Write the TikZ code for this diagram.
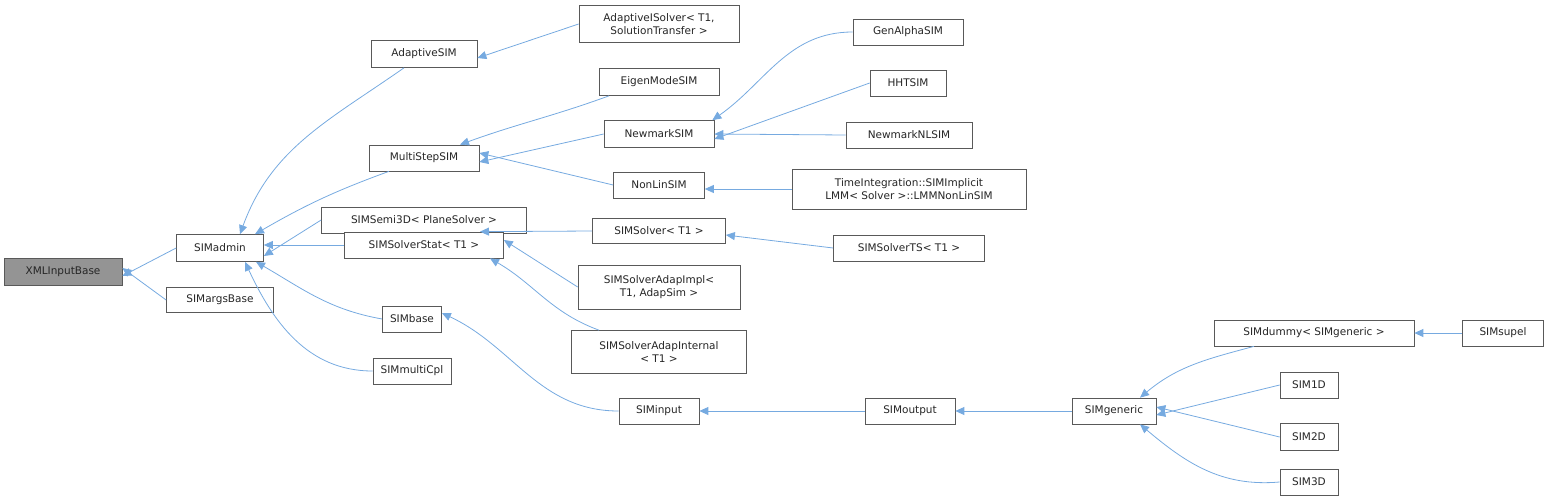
\documentclass[tikz,border=0pt]{standalone}
\usepackage{fontspec}
\setmainfont{DejaVu Sans}
\usetikzlibrary{arrows.meta,calc}
\begin{document}
\begin{tikzpicture}[x=1pt,y=-1pt,
  box/.style={draw=black!65,line width=0.7pt,fill=white,inner sep=0pt,align=center,
    font=\fontsize{10.5}{12.5}\selectfont,text=black!85},
  inh/.style={draw=cyan!60!blue!55,line width=0.8pt,-{Triangle[length=9pt,width=8pt,fill=cyan!60!blue!55]}}]
\useasboundingbox (0,0) rectangle (1549,501);
\newcommand\bx[6]{\node[box,minimum width=#4,minimum height=#5] (#1) at (#2,#3) {#6};}
\bx{xml}{63}{272}{118}{27}{XMLInputBase}
\node[box,fill=black!42,minimum width=118,minimum height=27] at (xml) {XMLInputBase};
\bx{admin}{220}{248}{87}{27}{SIMadmin}
\bx{args}{220}{300}{107}{25}{SIMargsBase}
\bx{adapt}{424}{54}{106}{27}{AdaptiveSIM}
\bx{multi}{424}{158}{110}{26}{MultiStepSIM}
\bx{semi}{424}{220}{205}{26}{SIMSemi3D< PlaneSolver >}
\bx{stat}{424}{245}{159}{26}{SIMSolverStat< T1 >}
\bx{base}{412}{319}{59}{26}{SIMbase}
\bx{mcpl}{412}{371}{78}{26}{SIMmultiCpl}
\bx{aisol}{659}{24}{160}{37}{AdaptiveISolver< T1,\\SolutionTransfer >}
\bx{eigen}{659}{82}{120}{27}{EigenModeSIM}
\bx{newm}{659}{134}{110}{27}{NewmarkSIM}
\bx{nonlin}{659}{185}{91}{26}{NonLinSIM}
\bx{solver}{659}{231}{133}{25}{SIMSolver< T1 >}
\bx{aimpl}{659}{287}{162}{44}{SIMSolverAdapImpl<\\T1, AdapSim >}
\bx{aint}{659}{352}{175}{43}{SIMSolverAdapInternal\\< T1 >}
\bx{input}{659}{411}{80}{26}{SIMinput}
\bx{genal}{908}{32}{110}{26}{GenAlphaSIM}
\bx{hht}{908}{83}{76}{26}{HHTSIM}
\bx{newnl}{909}{135}{126}{26}{NewmarkNLSIM}
\bx{tint}{909}{189}{234}{40}{TimeIntegration::SIMImplicit\\LMM< Solver >::LMMNonLinSIM}
\bx{solts}{909}{248}{151}{26}{SIMSolverTS< T1 >}
\bx{output}{910}{411}{90}{26}{SIMoutput}
\bx{gen}{1114}{411}{84}{26}{SIMgeneric}
\bx{dummy}{1314}{333}{200}{26}{SIMdummy< SIMgeneric >}
\bx{supel}{1503}{333}{81}{26}{SIMsupel}
\bx{s1}{1309}{385}{58}{26}{SIM1D}
\bx{s2}{1309}{437}{58}{27}{SIM2D}
\bx{s3}{1309}{482}{58}{26}{SIM3D}

\draw[inh] (admin.west) -- ([yshift=-4]xml.east);
\draw[inh] (args.west) -- ([yshift=4]xml.east);
\draw[inh] ([xshift=-20]adapt.south) to[out=215,in=70] ([xshift=20]admin.north);
\draw[inh] ([xshift=-35]multi.south) to[out=200,in=30] ([xshift=35]admin.north);
\draw[inh] (semi.west) -- ([yshift=-8]admin.east);
\draw[inh] (stat.west) -- ([yshift=3]admin.east);
\draw[inh] (base.west) to[out=170,in=-30] ([xshift=36]admin.south);
\draw[inh] (mcpl.west) to[out=180,in=-65] ([xshift=25]admin.south);
\draw[inh] (aisol.west) -- ([yshift=-4]adapt.east);
\draw[inh] ([xshift=-50]eigen.south) to[out=200,in=20] ([xshift=36]multi.north);
\draw[inh] (newm.west) -- ([yshift=-4]multi.east);
\draw[inh] (nonlin.west) -- ([yshift=5]multi.east);
\draw[inh] (solver.west) -- ([xshift=56]stat.north);
\draw[inh] (aimpl.west) -- ([yshift=5]stat.east);
\draw[inh] ([xshift=-60]aint.north) to[out=160,in=-30] ([xshift=66]stat.south);
\draw[inh] (input.west) to[out=180,in=-25] ([yshift=6]base.east);
\draw[inh] (genal.west) to[out=180,in=35] ([xshift=-2]newm.north east);
\draw[inh] (hht.west) -- ([yshift=-5]newm.east);
\draw[inh] (newnl.west) -- (newm.east);
\draw[inh] (tint.west) -- ([yshift=-4]nonlin.east);
\draw[inh] (solts.west) -- ([yshift=-4]solver.east);
\draw[inh] (output.west) -- (input.east);
\draw[inh] (gen.west) -- (output.east);
\draw[inh] ([xshift=-60]dummy.south) to[out=195,in=40] ([xshift=26]gen.north);
\draw[inh] (supel.west) -- (dummy.east);
\draw[inh] (s1.west) -- ([yshift=-4]gen.east);
\draw[inh] (s2.west) -- ([yshift=4]gen.east);
\draw[inh] (s3.west) to[out=185,in=-40] ([xshift=26]gen.south);
\end{tikzpicture}
\end{document}
